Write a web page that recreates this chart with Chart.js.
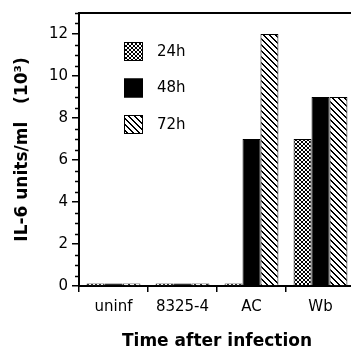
<!DOCTYPE html>
<html>
<head>
<meta charset="utf-8">
<title>IL-6</title>
<script src="https://cdn.jsdelivr.net/npm/chart.js@4.4.1/dist/chart.umd.min.js"></script>
<style>
  body { margin: 0; overflow: hidden; background: #fff; }
  .chartBox { width: 360px; height: 362px; }
</style>
</head>
<body>
<div class="chartBox"><canvas id="il6Chart"></canvas></div>
<script>
// groups on the x axis
const groups = ['uninf', '8325-4', 'AC', 'Wb']
// time points (one dataset each)
const timeLabels = ['24h', '48h', '72h']
// IL-6 units/ml, x10^3
const values24h = [0.12, 0.12, 0.12, 7]
const values48h = [0.12, 0.12, 7, 9]
const values72h = [0.12, 0.12, 12, 9]
// labelled ticks on y, minor ticks every half unit
const yTicks = [0, 2, 4, 6, 8, 10, 12]
const yMinorStep = 0.5

const fontFamily = '"DejaVu Sans", sans-serif'

// fill patterns like in the scanned figure
class PatternMaker {
  static tile(size, isBlack) {
    const c = document.createElement('canvas')
    c.width = size
    c.height = size
    const ctx = c.getContext('2d')
    ctx.fillStyle = '#fff'
    ctx.fillRect(0, 0, size, size)
    ctx.fillStyle = '#000'
    for (let y = 0; y < size; y++) {
      for (let x = 0; x < size; x++) {
        if (isBlack(x, y)) ctx.fillRect(x, y, 1, 1)
      }
    }
    return ctx.createPattern(c, 'repeat')
  }

  // fine cross hatch (24h)
  static crossHatch() {
    return PatternMaker.tile(4, (x, y) => x === y || x === 3 - y)
  }

  // "\\\" stripes (72h)
  static stripes() {
    return PatternMaker.tile(6, (x, y) => {
      const d = (x - y + 6) % 6
      return d === 0 || d === 1
    })
  }
}

// legend drawn inside the plot, upper left
const insideLegend = {
  id: 'insideLegend',
  afterDraw(chart) {
    const ctx = chart.ctx
    const area = chart.chartArea
    ctx.save()
    ctx.font = '15px ' + fontFamily
    ctx.textBaseline = 'middle'
    chart.data.datasets.forEach((ds, i) => {
      const x = area.left + 45
      const y = area.top + 29 + i * 36.5
      ctx.fillStyle = ds.backgroundColor
      ctx.fillRect(x, y, 19, 19)
      ctx.strokeStyle = '#000'
      ctx.lineWidth = 1
      ctx.strokeRect(x + 0.5, y + 0.5, 18, 18)
      ctx.fillStyle = '#000'
      ctx.fillText(ds.label, x + 33, y + 10)
    })
    ctx.restore()
  },
}

// minor ticks on y and the top frame line
const frameAndMinorTicks = {
  id: 'frameAndMinorTicks',
  afterDraw(chart) {
    const ctx = chart.ctx
    const area = chart.chartArea
    const yScale = chart.scales.y
    ctx.save()
    ctx.strokeStyle = '#000'
    ctx.lineWidth = 1.5
    for (let v = yScale.min; v <= yScale.max; v += yMinorStep) {
      if (yTicks.includes(v)) continue
      const py = Math.round(yScale.getPixelForValue(v)) + 0.5
      ctx.beginPath()
      ctx.moveTo(area.left - 4, py)
      ctx.lineTo(area.left, py)
      ctx.stroke()
    }
    ctx.lineWidth = 2
    ctx.beginPath()
    ctx.moveTo(area.left - 1, area.top)
    ctx.lineTo(area.right, area.top)
    ctx.stroke()
    ctx.restore()
  },
}

function main() {
  const ctx = document.getElementById('il6Chart').getContext('2d')
  const fills = [PatternMaker.crossHatch(), '#000', PatternMaker.stripes()]
  const series = [values24h, values48h, values72h]

  const datasets = series.map((values, i) => ({
    label: timeLabels[i],
    data: values,
    backgroundColor: fills[i],
    borderColor: '#000',
    borderWidth: 1,
    barPercentage: 1,
    categoryPercentage: 0.78,
  }))

  new Chart(ctx, {
    type: 'bar',
    data: { labels: groups, datasets: datasets },
    plugins: [insideLegend, frameAndMinorTicks],
    options: {
      responsive: true,
      maintainAspectRatio: false,
      animation: false,
      layout: { padding: { top: 13, right: 5, bottom: 0, left: 0 } },
      plugins: {
        legend: { display: false },
        tooltip: { enabled: false },
      },
      scales: {
        x: {
          grid: {
            drawOnChartArea: false,
            offset: true,
            tickLength: 6,
            color: '#000',
            lineWidth: 1.5,
          },
          border: { color: '#000', width: 2 },
          ticks: {
            color: '#000',
            padding: 6,
            font: { family: fontFamily, size: 15 },
          },
          title: {
            display: true,
            text: 'Time after infection',
            color: '#000',
            padding: { bottom: 10 },
            font: { family: fontFamily, size: 17, weight: 'bold' },
          },
          afterFit(scale) {
            scale.height = 76
          },
        },
        y: {
          min: 0,
          max: 13,
          afterBuildTicks(scale) {
            scale.ticks = yTicks.map((v) => ({ value: v }))
          },
          grid: {
            drawOnChartArea: false,
            tickLength: 7,
            color: '#000',
            lineWidth: 1.5,
          },
          border: { color: '#000', width: 2 },
          ticks: {
            color: '#000',
            padding: 4,
            font: { family: fontFamily, size: 15 },
          },
          title: {
            display: true,
            text: 'IL-6 units/ml   (10³)',
            color: '#000',
            padding: { top: 12 },
            font: { family: fontFamily, size: 17, weight: 'bold' },
          },
          afterFit(scale) {
            scale.width = 79
          },
        },
      },
    },
  })
}
main()
</script>
</body>
</html>
